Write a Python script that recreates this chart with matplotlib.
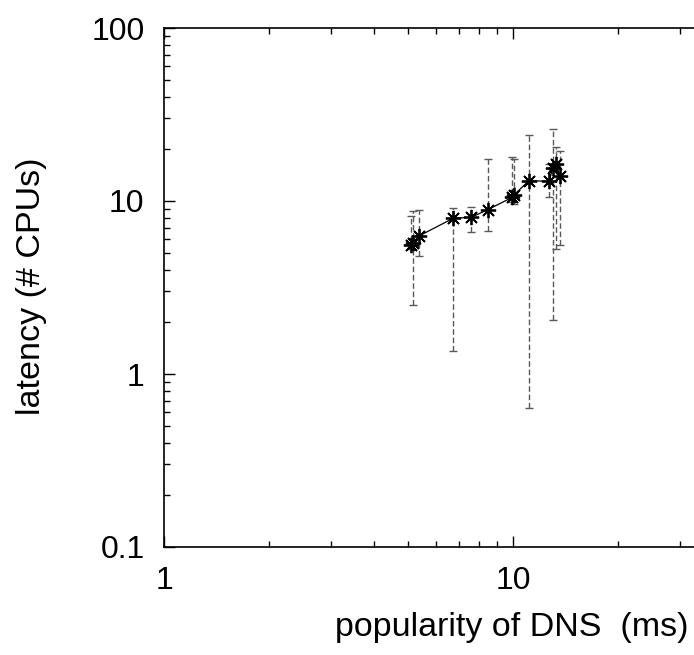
import numpy as np
import matplotlib
matplotlib.use('Agg')
import matplotlib.pyplot as plt

plt.rcParams['font.family'] = ['Liberation Sans', 'DejaVu Sans']

# points (sorted by x)
dns_ms = [5.10, 5.16, 5.39, 6.75, 7.58, 8.46, 9.95, 10.05, 11.1, 12.7, 13.0, 13.3, 13.6]
cpus = [5.55, 5.75, 6.29, 7.96, 8.04, 8.90, 10.5, 10.8, 13.1, 13.0, 15.6, 16.4, 14.0]
err_hi = [8.2, 8.8, 8.9, 9.1, 9.2, 17.5, 17.9, 17.5, 24.0, 16.4, 25.9, 20.5, 19.5]
err_lo = [5.3, 2.5, 4.8, 1.36, 6.6, 6.7, 9.9, 9.6, 0.64, 10.6, 2.06, 5.26, 5.55]

dns_ms = np.array(dns_ms)
cpus = np.array(cpus)
yerr = [cpus - np.array(err_lo), np.array(err_hi) - cpus]

fig = plt.figure(figsize=(6.94, 6.55), dpi=100)
# axes runs past the right edge of the figure like the original crop
ax = fig.add_axes([164/694, 108/655, 698/694, 519/655])

eb = ax.errorbar(dns_ms, cpus, yerr=yerr, fmt='none', ecolor='0.35',
                 elinewidth=1.0, capsize=3, capthick=1.0)
eb[2][0].set_linestyle((0, (4, 2)))
for cap in eb[1]:
    cap.set_color('black')

ax.plot(dns_ms, cpus, color='black', linewidth=0.9,
        marker=(8, 2, 0), markersize=11, markeredgewidth=1.3)

ax.set_xscale('log')
ax.set_yscale('log')
ax.set_xlim(1, 100)
ax.set_ylim(0.1, 100)
ax.set_xticks([1, 10])
ax.set_xticklabels(['1', '10'])
ax.set_yticks([0.1, 1, 10, 100])
ax.set_yticklabels(['0.1', '1', '10', '100'])

ax.tick_params(which='both', direction='in', top=True, right=True, width=1.0)
ax.tick_params(which='major', length=8, labelsize=23, pad=14)
ax.tick_params(which='minor', length=4)
for s in ax.spines.values():
    s.set_linewidth(1.2)

ax.set_xlabel('popularity of DNS  (ms)', fontsize=24.5)
ax.xaxis.set_label_coords(348/698, -0.125)
ax.set_ylabel('latency (# CPUs)', fontsize=24.5)
ax.yaxis.set_label_coords(-0.168, 0.503)

fig.savefig('out.png', dpi=100)
